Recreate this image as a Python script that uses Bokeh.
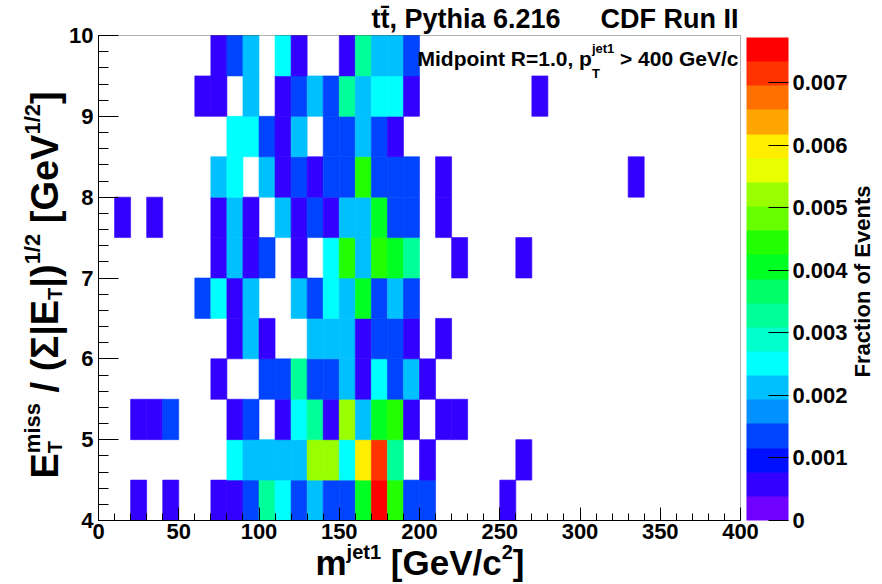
import math
from bokeh.plotting import figure
from bokeh.models import (ColorBar, FixedTicker, PrintfTickFormatter, SingleIntervalTicker,
                          Label, ColumnDataSource, Range1d, BoxAnnotation)
from bokeh.transform import linear_cmap
from bokeh.embed import file_html
from bokeh.resources import INLINE

# ---------------- data ----------------
mass_bin_width = 10.0      # GeV/c^2
ratio_bin_height = 0.5     # GeV^1/2
mass_range = (0, 400)
ratio_range = (4, 10)
fraction_max = 0.00772

# (lower mass edge, fraction of events) for each MET-significance row
row_4_0 = [(20, 0.00058), (40, 0.00058), (70, 0.00058), (80, 0.00058), (90, 0.00135), (100, 0.0033),
           (110, 0.0025), (120, 0.00135), (130, 0.0021), (140, 0.00135), (150, 0.00135), (160, 0.0041),
           (170, 0.0076), (180, 0.0044), (190, 0.00135), (200, 0.00135), (250, 0.00058)]
row_4_5 = [(80, 0.0025), (90, 0.0021), (100, 0.0021), (110, 0.0021), (120, 0.0021), (130, 0.0052),
           (140, 0.0052), (150, 0.0025), (160, 0.0060), (170, 0.0071), (180, 0.0033), (200, 0.00058),
           (260, 0.00058)]
row_5_0 = [(20, 0.00058), (30, 0.00058), (40, 0.00135), (80, 0.00058), (90, 0.00135), (110, 0.00058),
           (120, 0.0025), (130, 0.0033), (140, 0.00058), (150, 0.0052), (160, 0.0021), (170, 0.0041),
           (180, 0.0044), (190, 0.00058), (210, 0.00058), (220, 0.00058)]
row_5_5 = [(70, 0.00058), (100, 0.00135), (110, 0.00135), (120, 0.0033), (130, 0.00135), (140, 0.00135),
           (150, 0.0021), (160, 0.00058), (170, 0.0025), (180, 0.00135), (190, 0.0021), (200, 0.00058)]
row_6_0 = [(80, 0.00058), (90, 0.0021), (100, 0.00058), (130, 0.0021), (140, 0.0021), (150, 0.0021),
           (160, 0.00058), (170, 0.00135), (180, 0.00135), (190, 0.00058), (210, 0.00058)]
row_6_5 = [(60, 0.00135), (70, 0.0025), (80, 0.00058), (90, 0.0021), (120, 0.0021), (130, 0.00135),
           (140, 0.0025), (150, 0.0021), (160, 0.0041), (170, 0.00135), (180, 0.0021), (190, 0.00135)]
row_7_0 = [(70, 0.00058), (80, 0.0021), (90, 0.00058), (100, 0.00135), (120, 0.00058), (140, 0.0025),
           (150, 0.0044), (160, 0.0021), (170, 0.0044), (180, 0.0041), (190, 0.0033), (220, 0.00058),
           (260, 0.00058)]
row_7_5 = [(10, 0.00058), (30, 0.00058), (70, 0.00058), (80, 0.0021), (90, 0.00058), (110, 0.0021),
           (120, 0.00058), (130, 0.00135), (140, 0.00058), (150, 0.0021), (160, 0.0021), (170, 0.0041),
           (180, 0.00135), (190, 0.00135), (210, 0.00058)]
row_8_0 = [(70, 0.0021), (80, 0.0025), (100, 0.0021), (110, 0.00058), (120, 0.00135), (130, 0.00058),
           (140, 0.00135), (150, 0.00135), (160, 0.0044), (170, 0.00135), (180, 0.00135), (190, 0.00135),
           (210, 0.00058), (330, 0.00058)]
row_8_5 = [(80, 0.0025), (90, 0.0025), (100, 0.00135), (110, 0.00058), (120, 0.0021), (140, 0.00135),
           (150, 0.00135), (160, 0.0021), (170, 0.00135), (180, 0.00058)]
row_9_0 = [(60, 0.00058), (70, 0.00058), (90, 0.0021), (110, 0.00058), (120, 0.00135), (130, 0.0021),
           (140, 0.00135), (150, 0.0033), (160, 0.0021), (170, 0.0025), (180, 0.0025), (190, 0.00058),
           (270, 0.00058)]
row_9_5 = [(70, 0.00058), (80, 0.00135), (90, 0.0021), (110, 0.0025), (120, 0.00058), (150, 0.00058),
           (160, 0.0033), (170, 0.0021), (180, 0.0021), (190, 0.00135)]

ratio_lows = [4.0, 4.5, 5.0, 5.5, 6.0, 6.5, 7.0, 7.5, 8.0, 8.5, 9.0, 9.5]
rows = [row_4_0, row_4_5, row_5_0, row_5_5, row_6_0, row_6_5,
        row_7_0, row_7_5, row_8_0, row_8_5, row_9_0, row_9_5]

palette = ["#7000ff", "#3300ff", "#0010ff", "#0044ff", "#0090ff", "#00c0ff", "#00ffff",
           "#00ffcc", "#00ff99", "#00ff66", "#00ff22", "#22ff00", "#66ff00", "#99ff00",
           "#e8ff00", "#ffee00", "#ffa500", "#ff7000", "#ff3300", "#ff0000"]
cbar_ticks = [0, 0.001, 0.002, 0.003, 0.004, 0.005, 0.006, 0.007]
x_tick_step = 50
y_tick_step = 1

left, right, bottom, top, frac = [], [], [], [], []
for y0, row in zip(ratio_lows, rows):
    for m0, f in row:
        left.append(m0)
        right.append(m0 + mass_bin_width)
        bottom.append(y0)
        top.append(y0 + ratio_bin_height)
        frac.append(f)
src = ColumnDataSource(dict(left=left, right=right, bottom=bottom, top=top, frac=frac))

# ---------------- geometry (pixels) ----------------
W, H = 882, 584
FL, FR, FT, FB = 98, 740, 35, 520          # plotting box inside the canvas
X0, X1 = mass_range
Y0, Y1 = ratio_range


def dx(px):
    return X0 + (px - FL) / (FR - FL) * (X1 - X0)


def dy(py):
    return Y0 + (FB - py) / (FB - FT) * (Y1 - Y0)


p = figure(width=W, height=H, x_range=Range1d(dx(0), dx(W)), y_range=Range1d(dy(H), dy(0)),
           output_backend="svg", toolbar_location=None,
           min_border_left=0, min_border_right=0, min_border_top=0, min_border_bottom=0,
           background_fill_color="white", border_fill_color="white")
p.outline_line_color = None
p.grid.visible = False

cmap = linear_cmap("frac", palette, 0, fraction_max)
p.quad(left="left", right="right", bottom="bottom", top="top", source=src,
       fill_color=cmap, line_color=cmap, line_width=0.6)

# frame box
p.add_layout(BoxAnnotation(left=X0, right=X1, bottom=Y0, top=Y1, fill_alpha=0,
                           line_color="black", line_width=1))

FONT = "Liberation Sans"
for ax in (p.xaxis[0], p.yaxis[0]):
    ax.axis_line_color = "black"
    ax.major_tick_line_color = "black"
    ax.minor_tick_line_color = "black"
    ax.major_tick_out = 0
    ax.minor_tick_out = 0
    ax.major_label_text_font = FONT
    ax.major_label_text_font_style = "bold"
    ax.major_label_text_font_size = "22px"
    ax.major_label_text_color = "black"
    ax.axis_label = None
p.xaxis.fixed_location = Y0
p.yaxis.fixed_location = X0
p.xaxis.bounds = (X0, X1)
p.yaxis.bounds = (Y0, Y1)
p.xaxis.ticker = SingleIntervalTicker(interval=x_tick_step, num_minor_ticks=5)
p.yaxis.ticker = SingleIntervalTicker(interval=y_tick_step, num_minor_ticks=5)
p.xaxis.major_tick_in = 13
p.xaxis.minor_tick_in = 7
p.yaxis.major_tick_in = 20
p.yaxis.minor_tick_in = 10
p.xaxis.major_label_standoff = 3
p.yaxis.major_label_standoff = 5

cb = ColorBar(color_mapper=cmap.transform, ticker=FixedTicker(ticks=cbar_ticks),
              formatter=PrintfTickFormatter(format="%.3f"), major_label_overrides={0: "0"},
              major_label_text_font=FONT, major_label_text_font_style="bold",
              major_label_text_font_size="22px", major_label_text_color="black",
              major_tick_in=20, major_tick_out=0, major_tick_line_color="black",
              minor_tick_line_color=None, label_standoff=4, width=42, height=483,
              margin=0, padding=0, location=(746, H - FB),
              border_line_color=None, background_fill_color=None, bar_line_color=None)
p.add_layout(cb)

# ---------------- texts ----------------
CW = {' ': 278, '(': 333, ')': 333, ',': 278, '.': 278, '/': 278, '=': 584, '>': 584, '[': 333,
      ']': 333, '|': 280, 'Σ': 600, '\u0304': 0, 'C': 722, 'D': 722, 'E': 667, 'F': 611, 'G': 778,
      'I': 278, 'M': 833, 'P': 667, 'R': 722, 'T': 611, 'V': 667, 'a': 556, 'c': 556, 'd': 611,
      'e': 556, 'f': 333, 'h': 611, 'i': 278, 'j': 278, 'm': 889, 'n': 611, 'o': 611, 'p': 611,
      'r': 389, 's': 556, 't': 333, 'u': 611, 'v': 556, 'y': 556}
MID = 0.34   # distance from the alphabetic baseline to the middle of the text box, in em


def tw(s, size):
    return sum(CW.get(ch, 556) for ch in s) / 1000.0 * size


def add_text(txt, px, base, size, vertical=False, align="left"):
    """px/base: start (or anchor) and baseline position in canvas pixels."""
    if vertical:
        x, y, ang = base - MID * size, px, math.pi / 2
    else:
        x, y, ang = px, base - MID * size, 0.0
    p.add_layout(Label(x=dx(x), y=dy(y), text=txt, text_font=FONT, text_font_style="bold",
                       text_font_size=f"{size}px", text_color="black", angle=ang,
                       text_align=align, text_baseline="middle"))


def pieces(slots, start, base, vertical):
    pos = start
    sign = -1 if vertical else 1
    for slot in slots:
        adv = 0
        for txt, size, shift in slot:
            lead = len(txt) - len(txt.lstrip(" "))
            body = txt.strip(" ")
            if body:
                add_text(body, pos + sign * tw(" " * lead, size), base - shift, size, vertical=vertical)
            adv = max(adv, tw(txt, size))
        pos += sign * adv


# title
add_text("tt\u0304, Pythia 6.216", 560, 28, 27, align="right")
add_text("CDF Run II", 738, 28, 27, align="right")

# selection text
pieces([[("Midpoint R=1.0, p", 21, 0)], [("jet1", 13, 13), ("T", 13, -12)]], 417, 65, False)
add_text("> 400 GeV/c", 738, 65, 21, align="right")

# x axis title
S, s = 35, 20
pieces([[("m", S, 0)], [("jet1", s, 0.45 * S)], [(" [GeV/c", S, 0)], [("2", s, 0.45 * S)], [("]", S, 0)]],
       315, 574, False)

# y axis title
SY, sy_sup, sy_sub = 38, 22, 20
pieces([[("E", SY, 0)], [("T", sy_sub, -0.1 * SY), ("miss", sy_sup, 0.45 * SY)], [(" / ", SY, 0)],
        [("(Σ|E", SY, 0)], [("T", sy_sub, -0.1 * SY)], [("|)", SY, 0)], [("1/2", sy_sup, 0.45 * SY)],
        [(" [GeV", SY, 0)], [("1/2", sy_sup, 0.45 * SY)], [("]", SY, 0)]], 478, 57, True)

# colour bar title
p.add_layout(Label(x=dx(862), y=dy(281), text="Fraction of Events", text_font=FONT,
                   text_font_style="bold", text_font_size="22px", text_color="black",
                   angle=math.pi / 2, text_align="center", text_baseline="middle"))

open("out.html", "w").write(file_html(p, INLINE))
